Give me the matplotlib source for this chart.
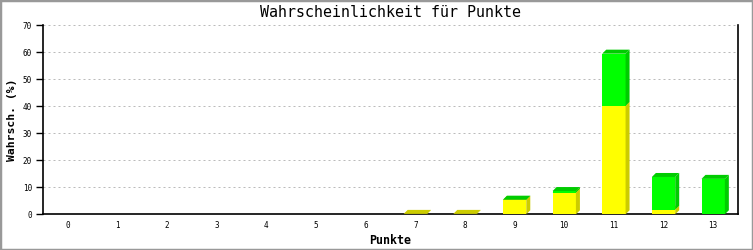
import matplotlib
matplotlib.use('Agg')
import matplotlib.pyplot as plt
import matplotlib.transforms as mtransforms
from matplotlib.patches import Rectangle, Polygon

# Data
punkte = list(range(14))
gelb = [0, 0, 0, 0, 0, 0, 0, 0.15, 0.15, 5.3, 8.0, 40.1, 1.7, 0]
gruen = [0, 0, 0, 0, 0, 0, 0, 0, 0, 0.1, 0.6, 19.3, 12.1, 13.1]
yticks = [0, 10, 20, 30, 40, 50, 60, 70]

plt.rcParams['font.family'] = 'DejaVu Sans Mono'

fig = plt.figure(figsize=(7.53, 2.5), dpi=100)
ax = fig.add_axes([43 / 753, 1 - 214.3 / 250, (738 - 43) / 753, (214.3 - 25) / 250])
ax.set_xlim(-0.5, 13.5)
ax.set_ylim(0, 70)

w = 0.47
d = 4  # depth of the 3d look in pixels
ident = mtransforms.IdentityTransform()


def bars3d(vals, bottom, front, dark):
    rects = ax.bar(punkte, vals, width=w, bottom=bottom, color=front, zorder=3, linewidth=0)
    for r, v in zip(rects, vals):
        if v <= 0:
            continue
        (x0, y0), (x1, y1) = ax.transData.transform(
            [(r.get_x(), r.get_y()), (r.get_x() + r.get_width(), r.get_y() + r.get_height())])
        top = Polygon([(x0, y1), (x1, y1), (x1 + d, y1 + d), (x0 + d, y1 + d)],
                      closed=True, transform=ident, facecolor=dark, linewidth=0,
                      zorder=r.get_zorder(), clip_on=False)
        side = Polygon([(x1, y0), (x1 + d, y0 + d), (x1 + d, y1 + d), (x1, y1)],
                       closed=True, transform=ident, facecolor=dark, linewidth=0,
                       zorder=r.get_zorder(), clip_on=False)
        ax.add_patch(top)
        ax.add_patch(side)


bars3d(gelb, 0, '#ffff00', '#cccc00')
bars3d(gruen, gelb, '#00ff00', '#00cc00')

ax.set_xticks(punkte)
ax.set_yticks(yticks)
ax.tick_params(axis='x', length=0, pad=5, labelsize=5.5)
ax.tick_params(axis='y', length=5, width=1, pad=3, labelsize=5.5)

ax.set_axisbelow(True)
ax.yaxis.grid(True, color='#bbbbbb', linestyle=(0, (2, 3)), linewidth=0.72)

ax.spines['top'].set_visible(False)
for s in ['left', 'bottom', 'right']:
    ax.spines[s].set_linewidth(1.2)

ax.set_title('Wahrscheinlichkeit für Punkte', fontsize=10.8, pad=6)
ax.set_xlabel('Punkte', fontsize=8.4, fontweight='bold', labelpad=3)
ax.set_ylabel('Wahrsch. (%)', fontsize=8.2, fontweight='bold', labelpad=4)

# grey frame round the picture
fig.patches.append(Rectangle((0, 0), 1, 1, transform=fig.transFigure, fill=False,
                             edgecolor='#999999', linewidth=2.5))

fig.savefig('out.png', dpi=100)
